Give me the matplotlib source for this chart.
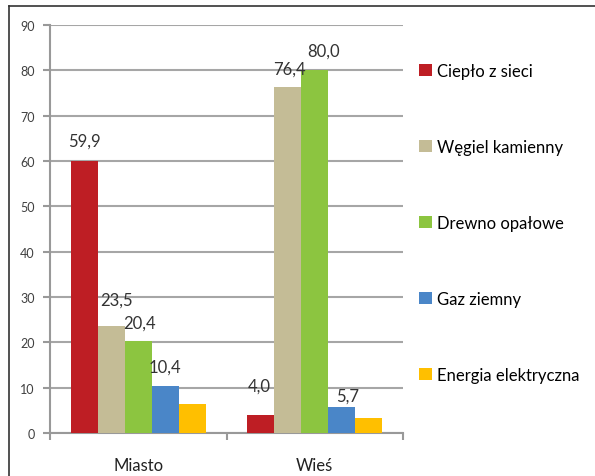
import matplotlib
matplotlib.use('Agg')
import matplotlib.pyplot as plt
import numpy as np
from matplotlib.lines import Line2D

plt.rcParams['font.family'] = ['Liberation Sans Narrow', 'Lato', 'DejaVu Sans']

# data
categories = ['Miasto', 'Wieś']
series = ['Ciepło z sieci', 'Węgiel kamienny', 'Drewno opałowe', 'Gaz ziemny', 'Energia elektryczna']
miasto = [59.9, 23.5, 20.4, 10.4, 6.4]
wies = [4.0, 76.4, 80.0, 5.7, 3.3]
labels_miasto = ['59,9', '23,5', '20,4', '10,4', '']
labels_wies = ['4,0', '76,4', '80,0', '5,7', '']
colors = ['#BE1E24', '#C4BC96', '#8CC540', '#4A86C8', '#FFBF00']

values = np.array([miasto, wies])
labels = [labels_miasto, labels_wies]
# label nudges in points (dx, dy), as placed in the original
nudge = [[(0, 15), (4, 19), (1, 13), (0, 14), (0, 0)],
         [(-1, 21), (1, 13), (6, 14), (4, 8), (0, 0)]]

fig = plt.figure(figsize=(5.95, 4.77), dpi=100)
ax = fig.add_axes([50/595, 1-434/477, 353/595, 408/477])

x = np.arange(len(categories)) + 0.5
w = 0.153
handles = []
for i, s in enumerate(series):
    pos = x + (i - 2) * w
    b = ax.bar(pos, values[:, i], width=w, color=colors[i], label=s, zorder=3)
    handles.append(b)
    for j in range(len(categories)):
        txt = labels[j][i]
        if txt:
            ax.annotate(txt, (pos[j], values[j, i]), xytext=nudge[j][i],
                        textcoords='offset points', ha='center', va='center',
                        fontsize=12, color='#333333', zorder=4)

ax.set_xlim(0, 2)
ax.set_ylim(0, 90)
ax.set_yticks(range(0, 91, 10))
ax.set_xticks([0, 1, 2])
ax.set_xticklabels([])
ax.set_xticks(x, minor=True)
ax.set_xticklabels(categories, minor=True, fontsize=12, color='#222222')
ax.tick_params(axis='x', which='minor', length=0, pad=17)
ax.tick_params(axis='x', which='major', length=5, color='#999999', width=1.5)
ax.tick_params(axis='y', length=5, color='#999999', width=1.5, labelsize=9,
               labelcolor='#404040', pad=6)
ax.grid(axis='y', color='#A6A6A6', linewidth=1.5, zorder=0)
for side in ['top', 'right']:
    ax.spines[side].set_visible(False)
for side in ['left', 'bottom']:
    ax.spines[side].set_color('#999999')
    ax.spines[side].set_linewidth(1.5)

fig.legend(handles=handles, labels=series, loc='upper left',
           bbox_to_anchor=(419/595, 1-64/477), frameon=False, fontsize=12,
           handlelength=0.75, handleheight=0.75, handletextpad=0.3,
           labelspacing=3.6, borderaxespad=0, borderpad=0)

# outer frame, cut off on the right and bottom
fig.add_artist(Line2D([9/595, 9/595], [0, 1-7/477], color='#333333', lw=1.2))
fig.add_artist(Line2D([9/595, 1], [1-7/477, 1-7/477], color='#333333', lw=1.2))

fig.savefig('out.png', dpi=100)
